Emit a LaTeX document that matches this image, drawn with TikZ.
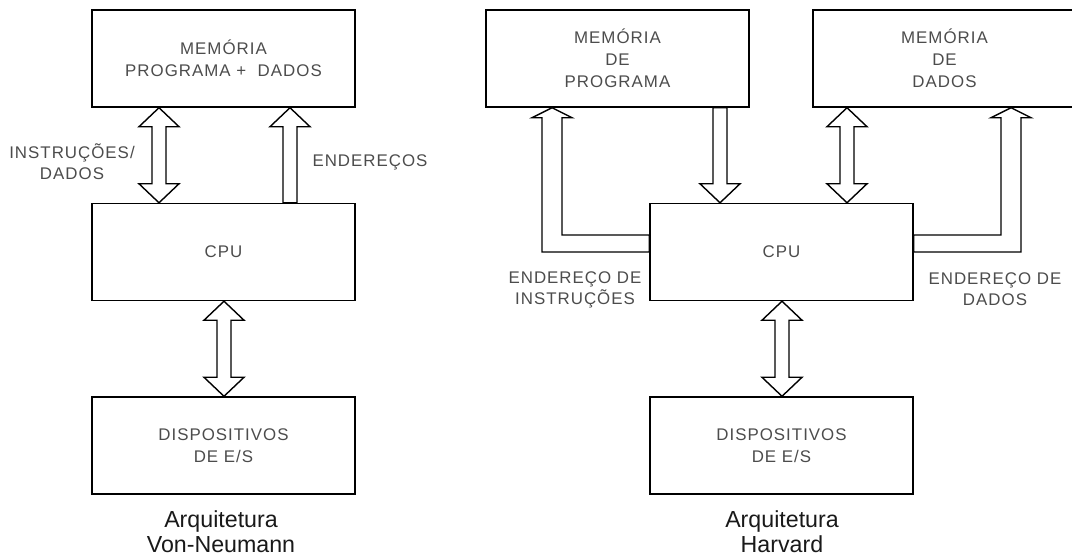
\documentclass[tikz,border=0pt]{standalone}
\usepackage{fontspec}
\setmainfont{Liberation Sans}
\newfontfamily\boitefont[LetterSpace=6]{Liberation Sans}
\usetikzlibrary{calc}

\tikzset{
  boite/.style={draw, line width=1pt, minimum width=6.575cm, minimum height=2.425cm,
    align=center, font=\boitefont\fontsize{12}{15.5}\selectfont, text=black!70},
  etiquette/.style={align=center, font=\boitefont\fontsize{12}{15}\selectfont, text=black!70},
  titre/.style={align=center, font=\fontsize{16.5}{18}\selectfont, text=black!90},
  fleche/.style={draw, fill=white, line width=1pt, line join=miter}
}

% flèches creuses verticales : #1 = abscisse, #2 = boîte du haut, #3 = boîte du bas
\newcommand{\flechedouble}[3]{%
  \draw[fleche] (#1,0 |- #2.south) -- ++(20,19) -- ++(-13,0)
    -- ($(#1,0 |- #3.north)+(7,-19)$) -- ++(13,0) -- (#1,0 |- #3.north)
    -- ++(-20,-19) -- ++(13,0) -- ($(#1,0 |- #2.south)+(-7,19)$) -- ++(-13,0) -- cycle;}
\newcommand{\flechehaut}[3]{%
  \draw[fleche] (#1,0 |- #2.south) -- ++(20,19) -- ++(-13,0)
    -- ($(#1,0 |- #3.north)+(7,0)$) -- ++(-14,0)
    -- ($(#1,0 |- #2.south)+(-7,19)$) -- ++(-13,0) -- cycle;}
\newcommand{\flechebas}[3]{%
  \draw[fleche] (#1,0 |- #3.north) -- ++(20,-19) -- ++(-13,0)
    -- ($(#1,0 |- #2.south)+(7,0)$) -- ++(-14,0)
    -- ($(#1,0 |- #3.north)+(-7,-19)$) -- ++(-13,0) -- cycle;}

\begin{document}
\begin{tikzpicture}[x=0.025cm, y=-0.025cm]
\useasboundingbox (0,0) rectangle (1072,559);

% architecture Von-Neumann
\node[boite] (memvn) at (223.5,58.5) {MEMÓRIA\\PROGRAMA +\ \ DADOS};
\node[boite] (cpuvn) at (223.5,252) {CPU};
\node[boite] (esvn) at (223.5,445.5) {DISPOSITIVOS\\DE E/S};

\flechedouble{159}{memvn}{cpuvn}
\flechehaut{290}{memvn}{cpuvn}
\flechedouble{224}{cpuvn}{esvn}

\node[etiquette] (instvn) at (72,162) {INSTRUÇÕES/\\DADOS};
\node[etiquette] (endvn) at (370,162) {ENDEREÇOS};
\node[titre] (titrevn) at (221,532) {Arquitetura\\Von-Neumann};

% architecture Harvard
\node[boite] (mprog) at (617.5,58.5) {MEMÓRIA\\DE\\PROGRAMA};
\node[boite] (mdados) at (944.5,58.5) {MEMÓRIA\\DE\\DADOS};
\node[boite] (cpuh) at (781.5,252) {CPU};
\node[boite] (esh) at (781.5,445.5) {DISPOSITIVOS\\DE E/S};

% bus d'adresses en L
\draw[fleche] (552,0 |- mprog.south) -- ++(20,10) -- ++(-10,0)
  |- ($(cpuh.west)+(0,-17)$) -- ++(0,17) -| ($(552,0 |- mprog.south)+(-10,10)$)
  -- ++(-10,0) -- cycle;
\draw[fleche] (1011,0 |- mdados.south) -- ++(20,10) -- ++(-10,0)
  |- (cpuh.east) -- ++(0,-17) -| ($(1011,0 |- mdados.south)+(-10,10)$)
  -- ++(-10,0) -- cycle;

\flechebas{720}{mprog}{cpuh}
\flechedouble{847}{mdados}{cpuh}
\flechedouble{782}{cpuh}{esh}

\node[etiquette] (endinst) at (575,289.5) {ENDEREÇO DE\\INSTRUÇÕES};
\node[etiquette] (enddados) at (995,289.5) {ENDEREÇO DE\\DADOS};
\node[titre] (titreh) at (782,532) {Arquitetura\\Harvard};
\end{tikzpicture}
\end{document}
